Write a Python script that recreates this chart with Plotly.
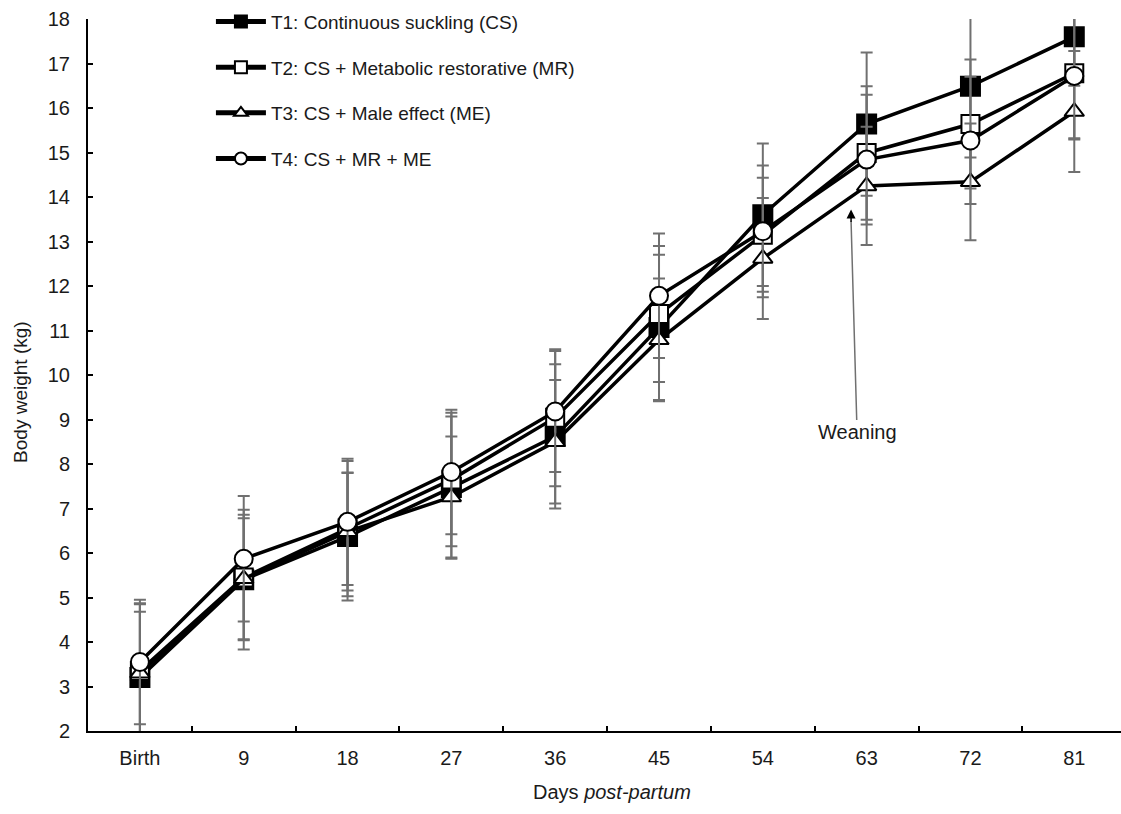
import plotly.graph_objects as go

categories = ["Birth", "9", "18", "27", "36", "45", "54", "63", "72", "81"]

t1 = [3.20, 5.40, 6.37, 7.47, 8.62, 11.07, 13.60, 15.64, 16.49, 17.60]
t2 = [3.35, 5.45, 6.55, 7.65, 9.04, 11.37, 13.15, 14.99, 15.64, 16.78]
t3 = [3.30, 5.42, 6.48, 7.26, 8.50, 10.79, 12.62, 14.25, 14.34, 15.92]
t4 = [3.55, 5.87, 6.70, 7.82, 9.18, 11.78, 13.23, 14.84, 15.27, 16.72]

t1_sd = [1.48, 1.57, 1.44, 1.60, 1.62, 1.63, 1.60, 1.61, 1.60, 1.10]
t2_sd = [1.52, 1.41, 1.52, 1.50, 1.54, 1.53, 1.28, 1.50, 1.45, 1.49]
t3_sd = [1.55, 1.36, 1.32, 1.36, 1.39, 1.38, 1.36, 1.33, 1.31, 1.36]
t4_sd = [1.40, 1.41, 1.42, 1.40, 1.36, 1.40, 1.48, 1.46, 1.43, 1.40]

names = [
    "T1: Continuous suckling (CS)",
    "T2: CS + Metabolic restorative (MR)",
    "T3: CS + Male effect (ME)",
    "T4: CS + MR + ME",
]
symbols = ["square", "square", "triangle-up", "circle"]
fills = ["black", "white", "white", "white"]
sizes = [19, 18, 17, 18]
series = [t1, t2, t3, t4]
sds = [t1_sd, t2_sd, t3_sd, t4_sd]

FONT = "Liberation Sans, Arial, sans-serif"
TXT = "#1a1a1a"

fig = go.Figure()
for i in range(4):
    fig.add_trace(go.Scatter(
        x=categories, y=series[i], name=names[i], mode="lines+markers",
        legendgroup=f"g{i}",
        line=dict(color="black", width=3.5),
        marker=dict(symbol=symbols[i], size=sizes[i], color=fills[i],
                    line=dict(color="black", width=2)),
        error_y=dict(type="data", array=sds[i], visible=True,
                     color="#707070", thickness=2, width=6),
    ))

# Weaning arrow: gray shaft + black head
fig.add_annotation(x=6.85, y=13.45, xref="x", yref="y", text="Weaning",
                   showarrow=True, arrowhead=0, arrowwidth=1.5, arrowcolor="#707070",
                   ax=6, ay=211, font=dict(family=FONT, size=20, color=TXT))
fig.add_annotation(x=6.85, y=13.72, xref="x", yref="y", text="",
                   showarrow=True, arrowhead=2, arrowsize=1.2, arrowwidth=1.5,
                   arrowcolor="black", ax=0, ay=14)

# axis titles
fig.add_annotation(x=-0.066, y=0.476, xref="paper", yref="paper", text="Body weight (kg)",
                   showarrow=False, textangle=-90, xanchor="center", yanchor="middle",
                   font=dict(family=FONT, size=19, color=TXT))
fig.add_annotation(x=0.507, y=-0.0857, xref="paper", yref="paper",
                   text="Days <i>post-partum</i>",
                   showarrow=False, xanchor="center", yanchor="middle",
                   font=dict(family=FONT, size=20, color=TXT))

fig.update_layout(
    width=1121, height=814,
    margin=dict(l=88, r=0, t=19, b=83),
    paper_bgcolor="white", plot_bgcolor="white",
    font=dict(family=FONT, size=20, color=TXT),
    showlegend=True,
    legend=dict(x=0.119, y=1.023, xanchor="left", yanchor="top",
                bgcolor="rgba(0,0,0,0)", font=dict(family=FONT, size=19, color=TXT),
                traceorder="grouped", tracegroupgap=18, itemwidth=50,
                itemsizing="constant"),
    xaxis=dict(type="category", range=[-0.5, 9.45], showline=True, linecolor="black",
               linewidth=2, ticks="inside", ticklen=5, tickwidth=1.5, tickcolor="black",
               tickson="boundaries", showgrid=False, zeroline=False,
               ticklabelstandoff=8, tickfont=dict(family=FONT, size=20, color=TXT)),
    yaxis=dict(range=[2, 18], dtick=1, showline=True, linecolor="black", linewidth=2,
               ticks="inside", ticklen=5, tickwidth=1.5, tickcolor="black",
               showgrid=False, zeroline=False, ticklabelstandoff=12,
               tickfont=dict(family=FONT, size=20, color=TXT)),
)

fig.write_html("out.html")
